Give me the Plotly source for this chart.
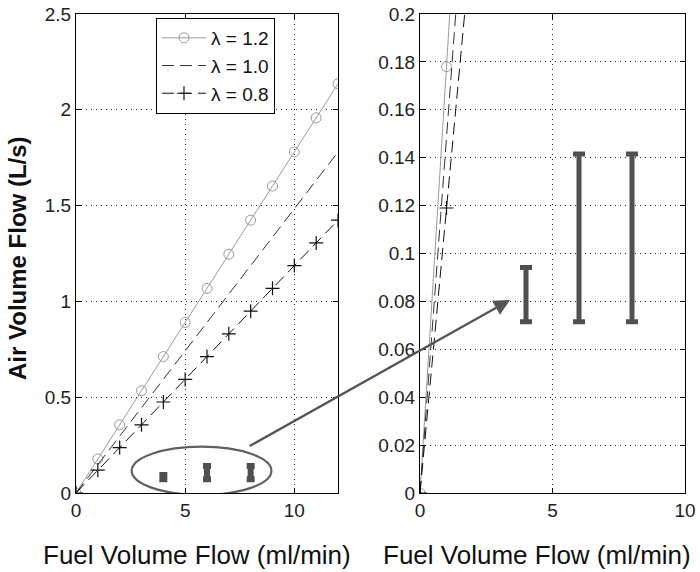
import plotly.graph_objects as go

# ---- data ----
fuel = [0, 1, 2, 3, 4, 5, 6, 7, 8, 9, 10, 11, 12]
air_l12 = [0, 0.178, 0.356, 0.534, 0.712, 0.890, 1.068, 1.246, 1.424, 1.602, 1.780, 1.958, 2.136]
air_l10 = [0, 0.148, 0.297, 0.445, 0.593, 0.742, 0.890, 1.038, 1.187, 1.335, 1.483, 1.632, 1.780]
air_l08 = [0, 0.119, 0.237, 0.356, 0.475, 0.593, 0.712, 0.831, 0.949, 1.068, 1.187, 1.305, 1.424]
meas_x = [4, 6, 8]
meas_low = [0.0715, 0.0715, 0.0715]
meas_high = [0.0942, 0.1415, 0.1415]
labels = ["λ = 1.2", "λ = 1.0", "λ = 0.8"]

mid = [(a + b) / 2 for a, b in zip(meas_low, meas_high)]
half = [(b - a) / 2 for a, b in zip(meas_low, meas_high)]

W, H = 700, 572
def px(x):
    return x / W
def py(y):
    return 1 - y / H

FONT = "Liberation Sans, Arial, sans-serif"
fig = go.Figure()

for xa, ya, show in (("x", "y", True), ("x2", "y2", False)):
    fig.add_trace(go.Scatter(x=fuel, y=air_l12, mode="lines+markers", name=labels[0],
                             line=dict(color="#9a9a9a", width=1),
                             marker=dict(symbol="circle-open", size=10, color="#9a9a9a", line=dict(width=1)),
                             xaxis=xa, yaxis=ya, showlegend=show))
    fig.add_trace(go.Scatter(x=fuel, y=air_l10, mode="lines", name=labels[1],
                             line=dict(color="#333333", width=1, dash="12px,6px"),
                             xaxis=xa, yaxis=ya, showlegend=show))
    fig.add_trace(go.Scatter(x=fuel, y=air_l08, mode="lines+markers", name=labels[2],
                             line=dict(color="#111111", width=1, dash="12px,6px"),
                             marker=dict(symbol="cross-thin-open", size=10, color="#111111",
                                         line=dict(width=1.2, color="#111111")),
                             xaxis=xa, yaxis=ya, showlegend=show))

# measured ranges (right panel)
fig.add_trace(go.Scatter(x=meas_x, y=mid, mode="markers", marker=dict(size=1, opacity=0),
                         error_y=dict(type="data", array=half, arrayminus=half, color="#505050",
                                      thickness=5, width=6),
                         xaxis="x2", yaxis="y2", showlegend=False, hoverinfo="skip"))
# same ranges, small in the left panel
fig.add_trace(go.Scatter(x=meas_x, y=mid, mode="markers", marker=dict(size=1, opacity=0),
                         error_y=dict(type="data", array=half, arrayminus=half, color="#505050",
                                      thickness=6, width=4),
                         xaxis="x", yaxis="y", showlegend=False, hoverinfo="skip"))

ax_common = dict(showline=True, linecolor="black", linewidth=1, mirror="ticks",
                 ticks="inside", ticklen=5, tickcolor="black",
                 showgrid=True, gridcolor="#222222", gridwidth=1, griddash="1px,4px",
                 zeroline=False, ticklabeloverflow="allow", automargin=False,
                 tickfont=dict(family=FONT, size=19, color="#222"))

ydom = [py(493), py(14)]
fig.update_layout(
    width=W, height=H,
    margin=dict(l=0, r=0, t=0, b=0, autoexpand=False),
    paper_bgcolor="white", plot_bgcolor="white",
    xaxis=dict(domain=[px(76), px(338)], range=[0, 12], tickvals=[0, 5, 10], anchor="y", **ax_common),
    yaxis=dict(domain=ydom, range=[0, 2.5], dtick=0.5, anchor="x", **ax_common),
    xaxis2=dict(domain=[px(420), px(685)], range=[0, 10], tickvals=[0, 5, 10], anchor="y2", **ax_common),
    yaxis2=dict(domain=ydom, range=[0, 0.2], dtick=0.02, anchor="x2", **ax_common),
    legend=dict(x=px(156), y=py(18), xanchor="left", yanchor="top",
                bgcolor="white", bordercolor="black", borderwidth=1,
                font=dict(family=FONT, size=19, color="#111"), tracegroupgap=0,
                itemwidth=44),
    showlegend=True,
)

fig.add_shape(type="circle", xref="x", yref="y", x0=2.55, x1=8.95, y0=-0.01, y1=0.242,
              line=dict(color="#606060", width=2.2))

fig.add_annotation(xref="x2", yref="y2", x=3.4, y=0.0806, text="", showarrow=True,
                   axref="pixel", ayref="pixel", ax=-262, ay=147,
                   arrowhead=2, arrowsize=1.4, arrowwidth=2.3, arrowcolor="#555555")

fig.add_annotation(xref="paper", yref="paper", x=px(17), y=py(258), xanchor="center", yanchor="middle",
                   text="<b>Air Volume Flow (L/s)</b>", textangle=-90, showarrow=False,
                   font=dict(family=FONT, size=24, color="#111"))
title_font = dict(family=FONT, size=26, color="#111")
fig.add_annotation(xref="paper", yref="paper", x=px(197), y=py(555), xanchor="center", yanchor="middle",
                   text="Fuel Volume Flow (ml/min)", showarrow=False, font=title_font)
fig.add_annotation(xref="paper", yref="paper", x=px(537), y=py(555), xanchor="center", yanchor="middle",
                   text="Fuel Volume Flow (ml/min)", showarrow=False, font=title_font)

fig.write_html("out.html", config={"displayModeBar": False},
               post_script="document.body.style.margin='0';document.body.style.overflow='hidden';")
